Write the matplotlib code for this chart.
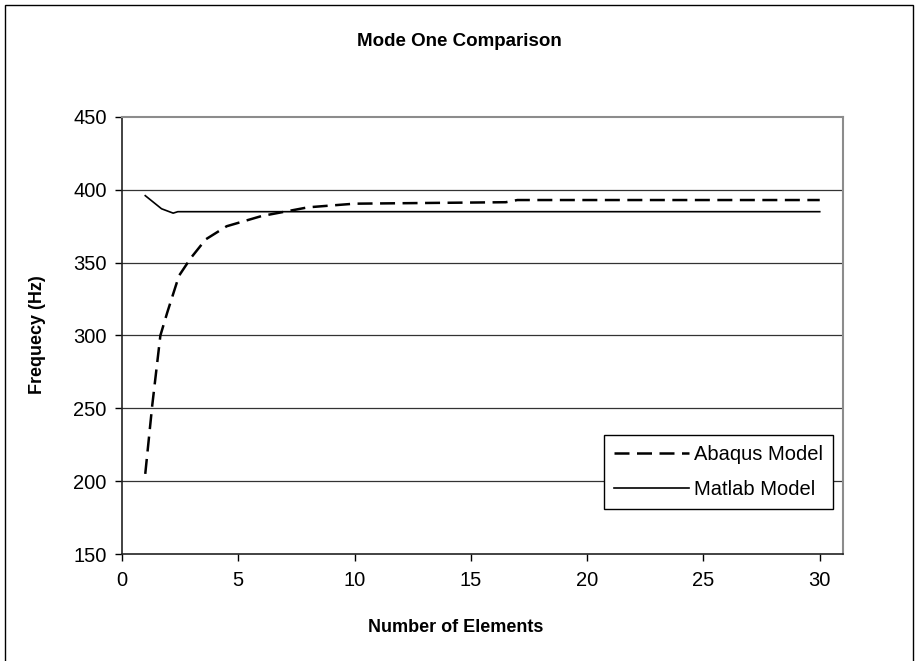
# Mode one frequency vs number of elements, Abaqus vs Matlab model
import matplotlib.pyplot as plt
from matplotlib.patches import Rectangle

plt.rcParams['font.family'] = ['Liberation Sans', 'DejaVu Sans']

# values
abaqus_x = [1, 1.3, 1.65, 1.95, 2.45, 2.95, 3.6, 4.5, 6, 8, 10, 16.5, 17, 30]
abaqus_y = [205, 252, 300, 316, 341, 353, 366, 375, 382, 388, 390.5, 391.5, 393, 393]
matlab_x = [1, 1.7, 2.2, 2.4, 30]
matlab_y = [396, 387, 384, 385, 385]

x_ticks = [0, 5, 10, 15, 20, 25, 30]
y_ticks = [150, 200, 250, 300, 350, 400, 450]

fig = plt.figure(figsize=(9.18, 6.61), dpi=100)
ax = fig.add_axes([122/918, 1 - 554/661, (843 - 122)/918, (554 - 117)/661])

# outer chart border (bottom runs off the picture)
fig.patches.append(Rectangle((5/918, -0.05), 908/918, 1.05 - 5/661, transform=fig.transFigure,
                             fill=False, edgecolor='black', linewidth=1.0))

ax.plot(abaqus_x, abaqus_y, color='black', linewidth=1.8,
        linestyle=(0, (6, 3)), label='Abaqus Model')
ax.plot(matlab_x, matlab_y, color='black', linewidth=1.2, label='Matlab Model')

ax.set_xlim(0, 31)
ax.set_ylim(150, 450)
ax.set_xticks(x_ticks)
ax.set_yticks(y_ticks)
ax.tick_params(direction='out', length=5, width=1, labelsize=14.5, colors='black')
ax.tick_params(axis='x', pad=7)
ax.tick_params(axis='y', pad=6)

for yv in y_ticks[1:-1]:
    ax.axhline(yv, color='#333333', linewidth=0.9, zorder=0)

ax.spines['left'].set_color('#222222')
ax.spines['bottom'].set_color('#222222')
ax.spines['left'].set_linewidth(1.2)
ax.spines['bottom'].set_linewidth(1.2)
ax.spines['top'].set_color('#8c8c8c')
ax.spines['right'].set_color('#8c8c8c')
ax.spines['top'].set_linewidth(1.5)
ax.spines['right'].set_linewidth(1.5)

fig.text(459/918, 1 - 42/661, 'Mode One Comparison', ha='center', va='center',
         fontsize=13.5, fontweight='bold')
fig.text(456/918, 1 - 627/661, 'Number of Elements', ha='center', va='center',
         fontsize=13, fontweight='bold')
fig.text(38/918, 1 - 335/661, 'Frequecy (Hz)', ha='center', va='center',
         rotation=90, fontsize=13, fontweight='bold')

leg = ax.legend(loc='lower right', bbox_to_anchor=(833/918, 1 - 509/661),
                bbox_transform=fig.transFigure, fontsize=14.5, frameon=True,
                fancybox=False, edgecolor='black', framealpha=1,
                handlelength=3.7, handletextpad=0.25, borderpad=0.5, labelspacing=0.8,
                borderaxespad=0)
leg.get_frame().set_linewidth(1.0)

fig.savefig('out.png', dpi=100)
